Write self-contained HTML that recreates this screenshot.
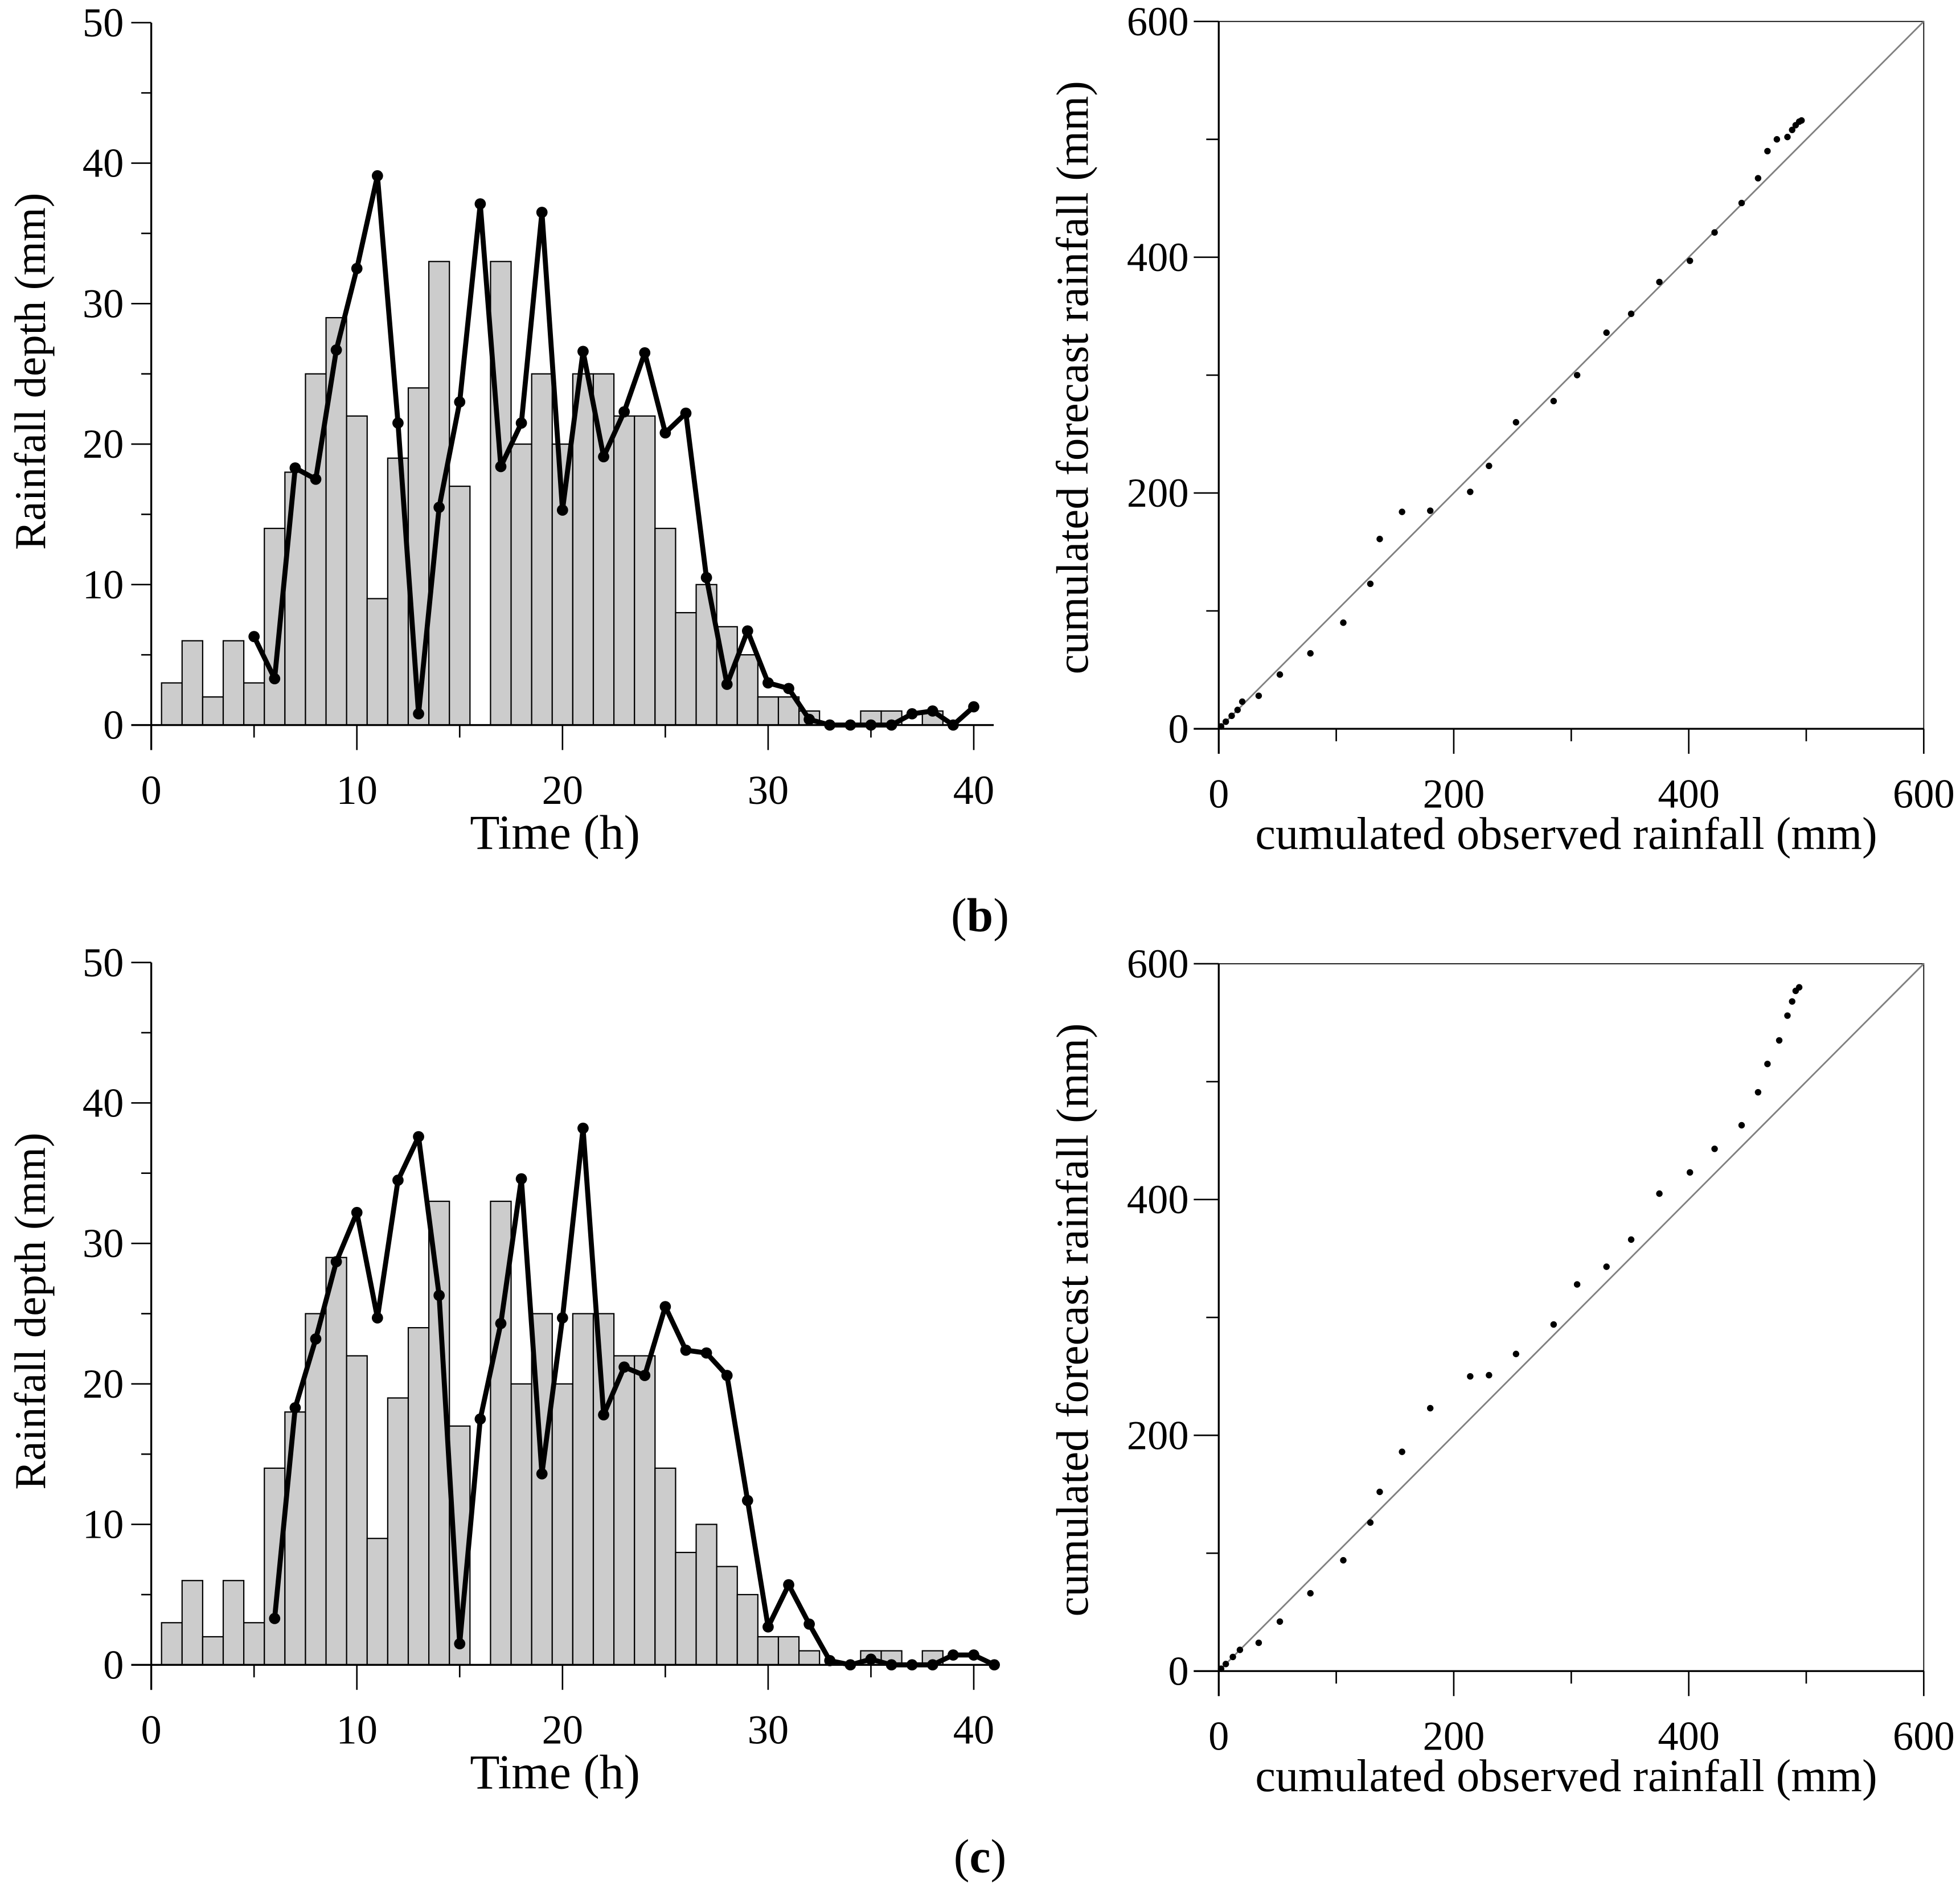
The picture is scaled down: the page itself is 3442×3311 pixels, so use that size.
<!DOCTYPE html>
<html><head><meta charset="utf-8"><style>
html,body{margin:0;padding:0;background:#fff}
svg{display:block}
text{font-family:"Liberation Serif",serif;fill:#000}
</style></head><body>
<svg id="fig" xmlns="http://www.w3.org/2000/svg" width="3442" height="3311" viewBox="0 0 1568 1508"></svg>
<script>
const hours = [1,2,3,4,5,6,7,8,9,10,11,12,13,14,15,16,17,18,19,20,21,22,23,24,25,26,27,28,29,30,31,32,33,34,35,36,37,38,39];
const observed = [3,6,2,6,3,14,18,25,29,22,9,19,24,33,17,0,33,20,25,20,25,25,22,22,14,8,10,7,5,2,2,1,0,0,1,1,0,1,0];
const hoursB = [5,6,7,8,9,10,11,12,13,14,15,16,17,18,19,20,21,22,23,24,25,26,27,28,29,30,31,32,33,34,35,36,37,38,39,40];
const forecastB = [6.3,3.3,18.3,17.5,26.7,32.5,39.1,21.5,0.8,15.5,23,37.1,18.4,21.5,36.5,15.3,26.6,19.1,22.3,26.5,20.8,22.2,10.5,2.9,6.7,3,2.6,0.4,0,0,0,0,0.8,1,0,1.3];
const hoursC = [6,7,8,9,10,11,12,13,14,15,16,17,18,19,20,21,22,23,24,25,26,27,28,29,30,31,32,33,34,35,36,37,38,39,40,41];
const forecastC = [3.3,18.3,23.2,28.7,32.2,24.7,34.5,37.6,26.3,1.5,17.5,24.3,34.6,13.6,24.7,38.2,17.8,21.2,20.6,25.5,22.4,22.2,20.6,11.7,2.7,5.7,2.9,0.3,0,0.4,0,0,0,0.7,0.7,0];
const cumObsB = [2,6,11,16,20,34,52,78,106,129,137,156,180,214,230,253,285,305,330,351,375,401,422,445,459,467,475,484,488,491,494,496];
const cumFcB  = [2,6,11,16,23,28,46,64,90,123,161,184,185,201,223,260,278,300,336,352,379,397,421,446,467,490,500,502,508,512,515,516];
const cumObsC = [2,6,12,18,34,52,78,106,129,137,156,180,214,230,253,285,305,330,351,375,401,422,445,459,467,477,484,488,491,494];
const cumFcC  = [2,6,12,18,24,42,66,94,126,152,186,223,250,251,269,294,328,343,366,405,423,443,463,491,515,535,556,568,577,580];
const yTicksL = [0,10,20,30,40,50];
const xTicksL = [0,10,20,30,40];
const ticksR = [0,200,400,600];

const NS="http://www.w3.org/2000/svg";
const svg=document.getElementById('fig');
function el(tag,attrs,parent){const e=document.createElementNS(NS,tag);for(const k in attrs)e.setAttribute(k,attrs[k]);(parent||svg).appendChild(e);return e;}

function barPanel(id,y0,y50,hx,fc){
  const g=el('g',{});
  
  
  const X=v=>121+(v/40)*(779-121);
  const Y=v=>y0+(v/50)*(y50-y0);
  observed.forEach((v,i)=>{
    if(v<=0)return;
    const r=el('rect',{x:X(hours[i]-0.5),y:Y(v),width:X(1)-X(0),height:Y(0)-Y(v),fill:'#cccccc',stroke:'#000','stroke-width':1},g);
    
    
  });
  el('line',{x1:X(0),y1:Y(50),x2:X(0),y2:Y(0)+20,stroke:'#000','stroke-width':1.5},g);
  el('line',{x1:X(0)-16,y1:Y(0),x2:X(40)+16,y2:Y(0),stroke:'#000','stroke-width':1.5},g);
  for(let v=0;v<=50;v+=5){const maj=v%10===0;el('line',{x1:X(0)-(maj?16:8),y1:Y(v),x2:X(0),y2:Y(v),stroke:'#000','stroke-width':1.2},g);}
  yTicksL.forEach(v=>{const t=el('text',{x:X(0)-22,y:Y(v)+11,'font-size':33,'text-anchor':'end'},g);t.textContent=v;
    });
  for(let v=0;v<=40;v+=5){const maj=v%10===0;el('line',{x1:X(v),y1:Y(0),x2:X(v),y2:Y(0)+(maj?20:10),stroke:'#000','stroke-width':1.2},g);}
  xTicksL.forEach(v=>{const t=el('text',{x:X(v),y:Y(0)+63,'font-size':33,'text-anchor':'middle'},g);t.textContent=v;
    });
  const xt=el('text',{x:444,y:Y(0)+99,'font-size':39,'text-anchor':'middle'},g);xt.textContent='Time (h)';
  
  const yt=el('text',{x:0,y:0,'font-size':35,'text-anchor':'middle',transform:`translate(36,${(Y(0)+Y(50))/2-2}) rotate(-90)`},g);yt.textContent='Rainfall depth (mm)';
  
  const pts=hx.map((h,i)=>X(h)+','+Y(fc[i])).join(' ');
  const pl=el('polyline',{points:pts,fill:'none',stroke:'#000','stroke-width':4,'stroke-linejoin':'round'},g);
  
  hx.forEach((h,i)=>{const c=el('circle',{cx:X(h),cy:Y(fc[i]),r:4.5,fill:'#000'},g);
    });
}

function scatterPanel(id,y0,y600,xs,ys){
  const g=el('g',{});
  
  
  const X=v=>975+(v/600)*(1539-975);
  const Y=v=>y0+(v/600)*(y600-y0);
  el('rect',{x:X(0),y:Y(600),width:X(600)-X(0),height:Y(0)-Y(600),fill:'none',stroke:'#000','stroke-width':0.8},g);
  el('line',{x1:X(0),y1:Y(0),x2:X(600),y2:Y(600),stroke:'#808080','stroke-width':1.3},g);
  el('line',{x1:X(0),y1:Y(600),x2:X(0),y2:Y(0)+20,stroke:'#000','stroke-width':1.5},g);
  el('line',{x1:X(0)-20,y1:Y(0),x2:X(600),y2:Y(0),stroke:'#000','stroke-width':1.5},g);
  for(let v=0;v<=600;v+=100){const maj=v%200===0;
    el('line',{x1:X(v),y1:Y(0),x2:X(v),y2:Y(0)+(maj?20:10),stroke:'#000','stroke-width':1.2},g);
    el('line',{x1:X(0)-(maj?20:10),y1:Y(v),x2:X(0),y2:Y(v),stroke:'#000','stroke-width':1.2},g);}
  ticksR.forEach(v=>{
    const t=el('text',{x:X(v),y:Y(0)+63,'font-size':33,'text-anchor':'middle'},g);t.textContent=v;
    
    const u=el('text',{x:X(0)-24,y:Y(v)+11,'font-size':33,'text-anchor':'end'},g);u.textContent=v;
    });
  const xt=el('text',{x:1253,y:Y(0)+96,'font-size':36.5,'text-anchor':'middle'},g);xt.textContent='cumulated observed rainfall (mm)';
  
  const yt=el('text',{x:0,y:0,'font-size':36,'text-anchor':'middle',transform:`translate(870,${(Y(0)+Y(600))/2+2}) rotate(-90)`},g);yt.textContent='cumulated forecast rainfall (mm)';
  
  xs.forEach((v,i)=>{const c=el('circle',{cx:X(v),cy:Y(ys[i]),r:2.6,fill:'#000'},g);
    });
}

barPanel('panel-b',580,18,hoursB,forecastB);
scatterPanel('panel-b',583,17,cumObsB,cumFcB);
barPanel('panel-c',1332,770,hoursC,forecastC);
scatterPanel('panel-c',1337,771,cumObsC,cumFcC);

function label(txt,y,name){
  const t=el('text',{x:784,y:y,'font-size':38,'text-anchor':'middle'});
  t.innerHTML='(<tspan font-weight="bold">'+txt+'</tspan>)';
  
}
label('b',745,'panel-label-b');
label('c',1498,'panel-label-c');
</script>
</body></html>
